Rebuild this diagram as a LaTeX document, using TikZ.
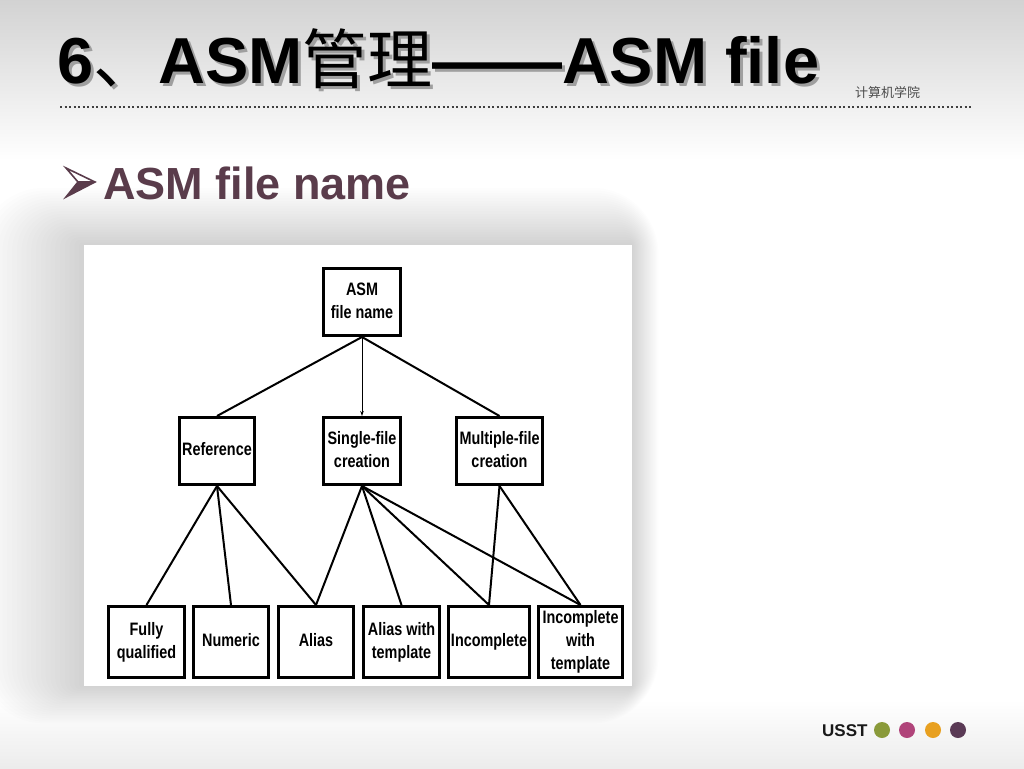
\documentclass[tikz,border=0pt]{standalone}
\usepackage{fontspec}
\setmainfont{Liberation Sans}
\newfontfamily\cjk{Noto Sans CJK SC}
\usetikzlibrary{arrows.meta}
\definecolor{subcol}{RGB}{90,60,75}
\definecolor{dotA}{RGB}{138,154,58}
\definecolor{dotB}{RGB}{176,68,122}
\definecolor{dotC}{RGB}{232,160,32}
\definecolor{dotD}{RGB}{90,58,85}
\newcommand\boxlbl[1]{\scalebox{0.8}[1]{\begin{tabular}{@{}c@{}}#1\end{tabular}}}
\newcommand\titletext{6{\cjk\mdseries 、}ASM{\cjk\mdseries 管理}——ASM file}
\newcommand\shadowtxt[1]{\rlap{\kern3pt\raisebox{-3pt}{\color{gray!75}#1}}#1}
\begin{document}
\begin{tikzpicture}[x=1pt,y=-1pt,
  box/.style={draw=black, line width=2.6pt, fill=white, inner sep=0pt,
    minimum height=67.4pt, align=center,
    font=\fontsize{18}{23}\selectfont\bfseries},
  lowbox/.style={box, minimum height=71.4pt},
  link/.style={line width=2pt, black},
  dot/.style={circle, inner sep=0pt, minimum size=16pt}]
\useasboundingbox (0,0) rectangle (1024,768);
% background
\shade[top color=gray!35, bottom color=white] (0,0) rectangle (1024,160);
\fill[white] (0,160) rectangle (1024,700);
\shade[top color=white, bottom color=gray!15] (0,700) rectangle (1024,768);
% soft shadow behind diagram
\foreach \i in {1,...,22}
  \fill[black, opacity=0.009, rounded corners=3*\i]
    (84-4.8*\i,245-2.6*\i) rectangle (632+1.2*\i,686+1.7*\i);
\fill[white] (84,245) rectangle (632,686);
% title
\node[anchor=base west, inner sep=0pt, text=black,
  font=\fontsize{65}{65}\selectfont\bfseries] (title) at (57,83)
  {\shadowtxt{\titletext}};
\node[anchor=base west, inner sep=0pt, text=black!70,
  font=\fontsize{13}{13}\selectfont\cjk] (school) at (855,97) {计算机学院};
\coordinate (dl) at (60,107);
\coordinate (dr) at (972,107);
\draw[black!75, line width=2pt, dash pattern=on 2pt off 2.5pt] (dl) -- (dr);
% bullet and subtitle
\fill[subcol] (78,182) -- (95,182) -- (66,197) -- cycle;
\draw[subcol, line width=1.6pt, line join=miter] (95,182) -- (66,168) -- (78,182) -- (66,197) -- cycle;
\draw[subcol, line width=1.2pt] (78,182) -- (95,182);
\node[anchor=base west, inner sep=0pt, text=subcol,
  font=\fontsize{45}{45}\selectfont\bfseries] (sub) at (103,199) {ASM file name};
% diagram nodes
\node[box, minimum width=77.4pt] (asm) at (362,302) {\boxlbl{ASM\\file name}};
\node[box, minimum width=75.4pt] (ref) at (217,451) {\boxlbl{Reference}};
\node[box, minimum width=77.4pt] (single) at (362,451) {\boxlbl{Single-file\\creation}};
\node[box, minimum width=86.4pt] (multi) at (499.5,451) {\boxlbl{Multiple-file\\creation}};
\node[lowbox, minimum width=76.4pt] (fully) at (146.5,642) {\boxlbl{Fully\\qualified}};
\node[lowbox, minimum width=75.4pt] (numeric) at (231,642) {\boxlbl{Numeric}};
\node[lowbox, minimum width=75.4pt] (alias) at (316,642) {\boxlbl{Alias}};
\node[lowbox, minimum width=76.4pt] (aliast) at (401.5,642) {\boxlbl{Alias with\\template}};
\node[lowbox, minimum width=81.4pt] (incomp) at (489,642) {\boxlbl{Incomplete}};
\node[lowbox, minimum width=84.4pt] (incompt) at (580.5,642) {\boxlbl{Incomplete\\with\\template}};
% connectors
\draw[link] (asm.south) -- (ref.north);
\draw[black, line width=1pt, -{Stealth[length=5pt,width=3.5pt]}] (asm.south) -- (single.north);
\draw[link] (asm.south) -- (multi.north);
\draw[link] (ref.south) -- (fully.north);
\draw[link] (ref.south) -- (numeric.north);
\draw[link] (ref.south) -- (alias.north);
\draw[link] (single.south) -- (alias.north);
\draw[link] (single.south) -- (aliast.north);
\draw[link] (single.south) -- (incomp.north);
\draw[link] (single.south) -- (incompt.north);
\draw[link] (multi.south) -- (incomp.north);
\draw[link] (multi.south) -- (incompt.north);
% footer
\node[anchor=base west, inner sep=0pt, text=black!90,
  font=\fontsize{17}{17}\selectfont\bfseries] (usst) at (822,736) {USST};
\node[dot, fill=dotA] (d1) at (882,730) {};
\node[dot, fill=dotB] (d2) at (907,730) {};
\node[dot, fill=dotC] (d3) at (933,730) {};
\node[dot, fill=dotD] (d4) at (958,730) {};
\end{tikzpicture}
\end{document}
